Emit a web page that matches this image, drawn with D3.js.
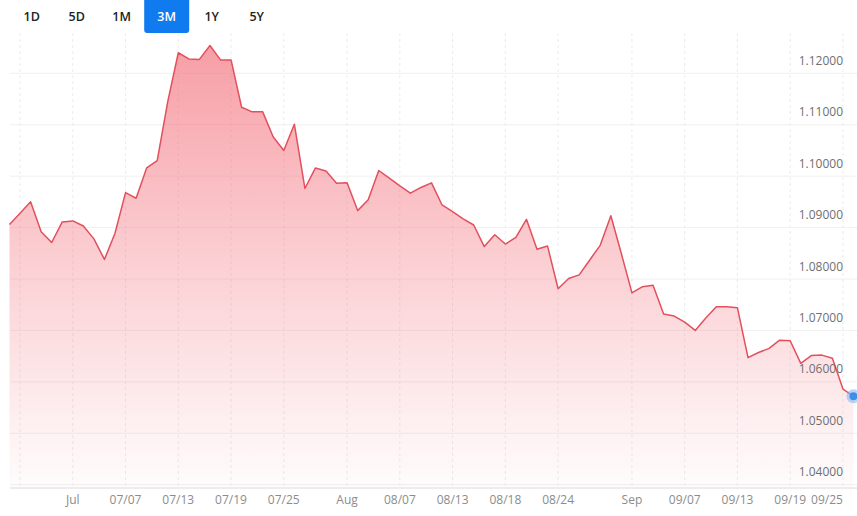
<!DOCTYPE html>
<html>
<head>
<meta charset="utf-8">
<script src="https://cdn.jsdelivr.net/npm/d3@7"></script>
<style>
  html, body { margin: 0; padding: 0; background: #fff; }
  svg { display: block; font-family: "Open Sans", sans-serif; }
</style>
</head>
<body>
<svg id="chart" width="857" height="516"></svg>
<script>
"use strict"

// trading days shown (Sun-Fri), 2023
const dates = ("06/25 06/26 06/27 06/28 06/29 06/30 " +
  "07/02 07/03 07/04 07/05 07/06 07/07 07/09 07/10 07/11 07/12 07/13 07/14 " +
  "07/16 07/17 07/18 07/19 07/20 07/21 07/23 07/24 07/25 07/26 07/27 07/28 07/30 07/31 " +
  "08/01 08/02 08/03 08/04 08/06 08/07 08/08 08/09 08/10 08/11 08/13 08/14 08/15 08/16 08/17 08/18 " +
  "08/20 08/21 08/22 08/23 08/24 08/25 08/27 08/28 08/29 08/30 08/31 " +
  "09/01 09/03 09/04 09/05 09/06 09/07 09/08 09/10 09/11 09/12 09/13 09/14 09/15 " +
  "09/17 09/18 09/19 09/20 09/21 09/22 09/24 09/25 09/26").split(" ")

const rates = [
  1.0906, 1.0928, 1.0950, 1.0892, 1.0871, 1.0911,
  1.0913, 1.0903, 1.0878, 1.0838, 1.0889, 1.0968, 1.0957, 1.1016, 1.1030, 1.1145, 1.1240, 1.1228,
  1.1227, 1.1254, 1.1226, 1.1226, 1.1134, 1.1125, 1.1125, 1.1076, 1.1050, 1.1101, 1.0976, 1.1016, 1.1010, 1.0986,
  1.0987, 1.0933, 1.0954, 1.1011, 1.0996, 1.0981, 1.0967, 1.0978, 1.0987, 1.0944, 1.0931, 1.0917, 1.0905, 1.0863, 1.0886, 1.0868,
  1.0881, 1.0916, 1.0858, 1.0864, 1.0781, 1.0801, 1.0808, 1.0837, 1.0866, 1.0923, 1.0849,
  1.0773, 1.0785, 1.0788, 1.0732, 1.0728, 1.0716, 1.0700, 1.0724, 1.0746, 1.0746, 1.0744, 1.0647, 1.0657,
  1.0665, 1.0681, 1.0680, 1.0636, 1.0651, 1.0652, 1.0646, 1.0586, 1.0572
]

const yTicks = [1.04, 1.05, 1.06, 1.07, 1.08, 1.09, 1.10, 1.11, 1.12]
const xTickDates = ["06/26", "07/02", "07/07", "07/13", "07/19", "07/25", "08/01", "08/07",
  "08/13", "08/18", "08/24", "09/01", "09/07", "09/13", "09/19", "09/25"]
const xTickLabels = ["", "Jul", "07/07", "07/13", "07/19", "07/25", "Aug", "08/07",
  "08/13", "08/18", "08/24", "Sep", "09/07", "09/13", "09/19", "09/25"]
const ranges = ["1D", "5D", "1M", "3M", "1Y", "5Y"]
const activeRange = "3M"

const svg = d3.select('#chart')
const W = 857
const axisY = 488

const x = d3.scaleLinear().domain([0, dates.length - 1]).range([9.5, 853.5])
const y = d3.scaleLinear().domain([1.04, 1.12]).range([484.7, 73.3])
const data = rates.map((v, i) => ({i: i, date: dates[i], v: v}))

/****** gradient ******/
const defs = svg.append('defs')
const grad = defs.append('linearGradient')
  .attr('id', 'fillGrad').attr('x1', 0).attr('y1', 0).attr('x2', 0).attr('y2', 1)
  .attr('gradientUnits', 'userSpaceOnUse')
  .attr('y1', y(1.1254)).attr('y2', axisY)
grad.append('stop').attr('offset', 0).attr('stop-color', '#f3717c').attr('stop-opacity', 0.68)
grad.append('stop').attr('offset', 0.5).attr('stop-color', '#f3717c').attr('stop-opacity', 0.33)
grad.append('stop').attr('offset', 1).attr('stop-color', '#f3717c').attr('stop-opacity', 0.02)

/****** grid ******/
const grid = svg.append('g')
grid.selectAll('line.h')
  .data(yTicks)
  .enter().append('line')
    .attr('class', 'h')
    .attr('x1', 10).attr('x2', W)
    .attr('y1', d => y(d)).attr('y2', d => y(d))
    .attr('stroke', '#f0f0f0')
const tickIdx = xTickDates.map(d => dates.indexOf(d))
grid.selectAll('line.v')
  .data(tickIdx)
  .enter().append('line')
    .attr('class', 'v')
    .attr('x1', d => x(d)).attr('x2', d => x(d))
    .attr('y1', 33).attr('y2', axisY)
    .attr('stroke', '#ececec')
    .attr('stroke-dasharray', '3,3')

/****** area + line ******/
const area = d3.area().x(d => x(d.i)).y0(axisY).y1(d => y(d.v))
const line = d3.line().x(d => x(d.i)).y(d => y(d.v))
svg.append('path').datum(data).attr('d', area).attr('fill', 'url(#fillGrad)')
svg.append('path').datum(data).attr('d', line)
  .attr('fill', 'none').attr('stroke', '#e2505e').attr('stroke-width', 1.5)
  .attr('stroke-linejoin', 'round')

/****** axes ******/
svg.append('line').attr('x1', 10).attr('x2', W).attr('y1', axisY).attr('y2', axisY)
  .attr('stroke', '#dcdcdc')

svg.append('g').selectAll('text')
  .data(yTicks)
  .enter().append('text')
    .attr('x', 843).attr('y', d => y(d) - 8.5)
    .attr('text-anchor', 'end')
    .attr('font-size', 12).attr('fill', '#6f6f6f')
    .text(d => d3.format('.5f')(d))

svg.append('g').selectAll('text')
  .data(tickIdx)
  .enter().append('text')
    .attr('x', d => x(d))
    .attr('y', 504)
    .attr('text-anchor', (d, k) => k === tickIdx.length - 1 ? 'end' : 'middle')
    .attr('font-size', 12).attr('fill', '#8c8c8c')
    .text((d, k) => xTickLabels[k])

/****** last point ******/
const last = data[data.length - 1]
svg.append('circle').attr('cx', x(last.i)).attr('cy', y(last.v)).attr('r', 7)
  .attr('fill', '#7fb2ef').attr('opacity', 0.55)
svg.append('circle').attr('cx', x(last.i)).attr('cy', y(last.v)).attr('r', 4)
  .attr('fill', '#3f8fe8')

/****** range buttons ******/
const btnX = d3.scalePoint().domain(ranges).range([31.7, 256.7])
const btns = svg.append('g').selectAll('g')
  .data(ranges)
  .enter().append('g')
btns.filter(d => d === activeRange).append('rect')
  .attr('x', d => btnX(d) - 22.5).attr('y', -4).attr('width', 45).attr('height', 37)
  .attr('rx', 3).attr('fill', '#0f7bef')
btns.append('text')
  .attr('x', d => btnX(d)).attr('y', 21)
  .attr('text-anchor', 'middle')
  .attr('font-size', 12.5).attr('font-weight', 600)
  .attr('fill', d => d === activeRange ? '#fff' : '#222')
  .text(d => d)
</script>
</body>
</html>
